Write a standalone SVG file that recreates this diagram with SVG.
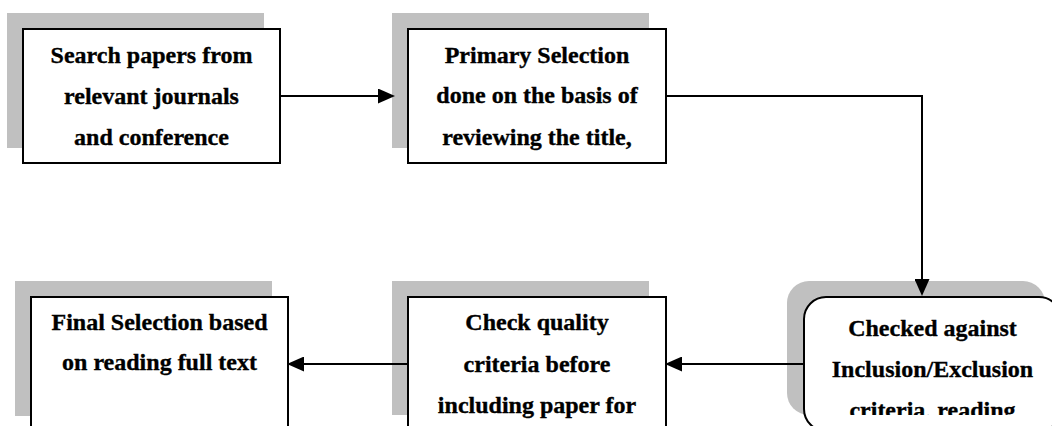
<svg xmlns="http://www.w3.org/2000/svg" width="1052" height="426" viewBox="0 0 1052 426">
<style>
.sh{fill:#c0c0c0;stroke:none}
.bx{fill:#fff;stroke:#000;stroke-width:2}
.t{font-family:"Liberation Serif","Times New Roman",serif;font-weight:bold;font-size:24px;fill:#000;stroke:#000;stroke-width:0.35;text-anchor:middle}
.c{fill:none;stroke:#000;stroke-width:2}
</style>
<defs>
<marker id="ah" markerUnits="userSpaceOnUse" markerWidth="17" markerHeight="15" refX="8" refY="7.5" orient="auto">
<path d="M0,0 L17,7.5 L0,15 z" fill="#000"/>
</marker>
<clipPath id="clip3"><rect x="804" y="297" width="260" height="118"/></clipPath>
</defs>
<rect width="1052" height="426" fill="#fff"/>
<g id="node1">
<rect class="sh" x="7" y="13" width="257" height="135"/>
<rect class="bx" x="23" y="29" width="257" height="134"/>
<text class="t" x="151.5" y="63">Search papers from</text>
<text class="t" x="151.5" y="104">relevant journals</text>
<text class="t" x="151.5" y="145">and conference</text>
</g>
<g id="node2">
<rect class="sh" x="392" y="13" width="257" height="135"/>
<rect class="bx" x="408" y="29" width="258" height="134"/>
<text class="t" x="537" y="63">Primary Selection</text>
<text class="t" x="537" y="103">done on the basis of</text>
<text class="t" x="537" y="145">reviewing the title,</text>
</g>
<g id="node3">
<rect class="sh" x="787" y="281" width="258" height="134" rx="22" ry="22"/>
<rect class="bx" x="804" y="297" width="257" height="134" rx="22" ry="22"/>
<g clip-path="url(#clip3)">
<text class="t" x="932.5" y="336">Checked against</text>
<text class="t" x="932.5" y="377">Inclusion/Exclusion</text>
<text class="t" x="932.5" y="418">criteria, reading</text>
</g>
</g>
<g id="node4">
<rect class="sh" x="392" y="281" width="257" height="134"/>
<rect class="bx" x="408" y="297" width="258" height="134"/>
<text class="t" x="537" y="330">Check quality</text>
<text class="t" x="537" y="372">criteria before</text>
<text class="t" x="537" y="413">including paper for</text>
</g>
<g id="node5">
<rect class="sh" x="15" y="281" width="257" height="135"/>
<rect class="bx" x="31" y="297" width="257" height="134"/>
<text class="t" x="159.5" y="330">Final Selection based</text>
<text class="t" x="159.5" y="370">on reading full text</text>
</g>
<g id="connectors">
<path class="c" d="M280,96 L386,96" marker-end="url(#ah)"/>
<path class="c" d="M666,96 L922,96 L922,287" marker-end="url(#ah)"/>
<path class="c" d="M804,364 L674,364" marker-end="url(#ah)"/>
<path class="c" d="M408,364 L296,364" marker-end="url(#ah)"/>
</g>
</svg>
